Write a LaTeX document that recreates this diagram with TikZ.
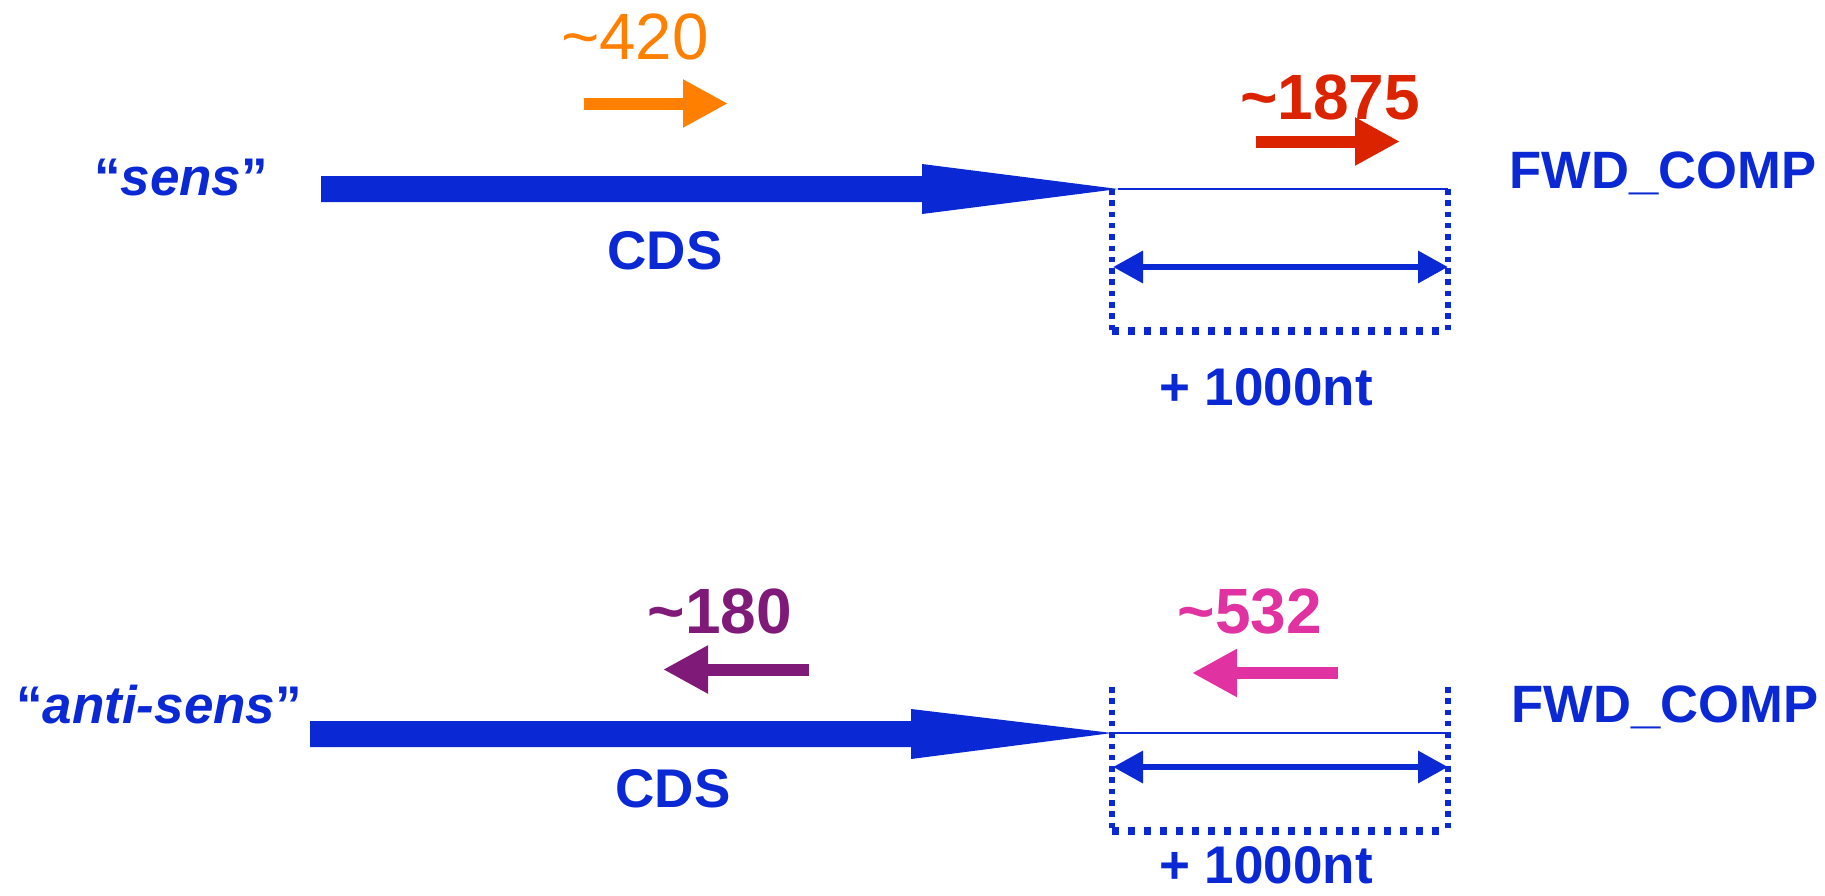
\documentclass[tikz,border=0pt]{standalone}
\usepackage{fontspec}
\setmainfont{Liberation Sans}
\usetikzlibrary{arrows.meta}
\definecolor{cblue}{RGB}{10,40,212}
\definecolor{corange}{RGB}{255,128,0}
\definecolor{cred}{RGB}{220,35,0}
\definecolor{cpurple}{RGB}{127,26,120}
\definecolor{cpink}{RGB}{224,50,160}
\begin{document}
\begin{tikzpicture}[x=1pt,y=-1pt,
  lab/.style={inner sep=0pt, anchor=base, text=cblue, font=\fontsize{53}{60}\selectfont\bfseries},
  num/.style={inner sep=0pt, anchor=base, font=\fontsize{64}{70}\selectfont\bfseries},
  cdsarrow/.style={fill=cblue},
  thinline/.style={draw=cblue, line width=2.5pt},
  dotv/.style={draw=cblue, line width=5.5pt, dash pattern=on 5.5pt off 5.8pt},
  doth/.style={draw=cblue, line width=7.5pt, dash pattern=on 7pt off 9pt},
  dimarrow/.style={draw=cblue, line width=6.5pt, {Triangle[length=30pt,width=31pt]}-{Triangle[length=30pt,width=31pt]}},
  smallarrow/.style={line width=12pt, -{Triangle[length=45pt,width=45pt]}}
]
\useasboundingbox (0,0) rectangle (1825,895);

% ---------- top: sens ----------
\node[lab] (sens) at (181,195) {“\textit{sens}”};
\coordinate (tipA) at (1118,189);
\coordinate (endA) at (1448,189);
\fill[cdsarrow] (321,176) -- (922,176) -- (922,164) -- (tipA) -- (922,214) -- (922,202) -- (321,202) -- cycle;
\node[lab, font=\fontsize{54.5}{60}\selectfont\bfseries] (cdsA) at (665,269) {CDS};
\draw[thinline] (tipA) -- (endA);
\coordinate (boxAtl) at (1112,189);
\coordinate (boxAbl) at (1112,331);
\coordinate (boxAtr) at (1448,189);
\coordinate (boxAbr) at (1448,331);
\draw[dotv] (boxAtl) -- (boxAbl);
\draw[dotv] (boxAtr) -- (boxAbr);
\draw[doth] (boxAbl) -- (boxAbr);
\coordinate (dimAl) at (1113,267);
\coordinate (dimAr) at (1448,267);
\draw[dimarrow] (dimAl) -- (dimAr);
\node[lab] (ntA) at (1266,405) {+ 1000nt};
\node[lab, font=\fontsize{52.6}{60}\selectfont\bfseries] (fwdA) at (1663,188) {FWD\_COMP};

\node[num, text=corange, font=\fontsize{65.5}{70}\selectfont] (n420) at (635,59) {\textasciitilde420};
\coordinate (oS) at (584,103.5);
\coordinate (oE) at (728,103.5);
\draw[smallarrow, draw=corange, fill=corange] (oS) -- (oE);

\node[num, text=cred] (n1875) at (1330,119) {\textasciitilde1875};
\coordinate (rS) at (1256,141.5);
\coordinate (rE) at (1400,141.5);
\draw[smallarrow, draw=cred, fill=cred] (rS) -- (rE);

% ---------- bottom: anti-sens ----------
\node[lab] (anti) at (159,723) {“\textit{anti-sens}”};
\coordinate (tipB) at (1112,733);
\coordinate (endB) at (1448,733);
\fill[cdsarrow] (310,721) -- (911,721) -- (911,709) -- (tipB) -- (911,759) -- (911,747) -- (310,747) -- cycle;
\node[lab, font=\fontsize{54.5}{60}\selectfont\bfseries] (cdsB) at (673,807) {CDS};
\draw[thinline] (tipB) -- (endB);
\coordinate (boxBtl) at (1112,687);
\coordinate (boxBbl) at (1112,831);
\coordinate (boxBtr) at (1448,687);
\coordinate (boxBbr) at (1448,831);
\draw[dotv] (boxBtl) -- (boxBbl);
\draw[dotv] (boxBtr) -- (boxBbr);
\draw[doth] (boxBbl) -- (boxBbr);
\coordinate (dimBl) at (1113,767);
\coordinate (dimBr) at (1448,767);
\draw[dimarrow] (dimBl) -- (dimBr);
\node[lab] (ntB) at (1266,883) {+ 1000nt};
\node[lab, font=\fontsize{52.6}{60}\selectfont\bfseries] (fwdB) at (1665,722) {FWD\_COMP};

\node[num, text=cpurple] (n180) at (720,633) {\textasciitilde180};
\coordinate (pS) at (809,669.5);
\coordinate (pE) at (663,669.5);
\draw[smallarrow, draw=cpurple, fill=cpurple] (pS) -- (pE);

\node[num, text=cpink] (n532) at (1250,633) {\textasciitilde532};
\coordinate (kS) at (1338,673);
\coordinate (kE) at (1192,673);
\draw[smallarrow, draw=cpink, fill=cpink] (kS) -- (kE);
\end{tikzpicture}
\end{document}
